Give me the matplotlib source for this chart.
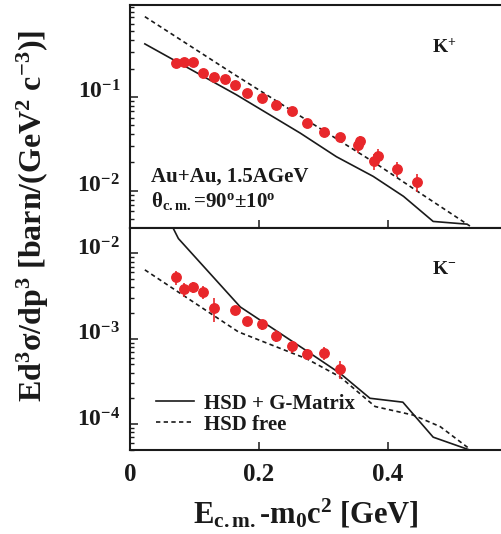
import numpy as np
import matplotlib
matplotlib.use("Agg")
import matplotlib.pyplot as plt
from matplotlib.ticker import FixedLocator, NullFormatter, LogLocator
from matplotlib.transforms import ScaledTranslation

plt.rcParams['font.family'] = ['Liberation Serif', 'DejaVu Serif']
plt.rcParams['font.weight'] = 'bold'
plt.rcParams['mathtext.fontset'] = 'custom'
plt.rcParams['mathtext.rm'] = 'Liberation Serif:bold'
plt.rcParams['mathtext.it'] = 'Liberation Serif:bold'
plt.rcParams['mathtext.bf'] = 'Liberation Serif:bold'
plt.rcParams['mathtext.sf'] = 'Liberation Serif'
plt.rcParams['mathtext.default'] = 'rm'

# ---------------- data: K+ (top panel) ----------------
kp_x = [0.071, 0.084, 0.098, 0.113, 0.130, 0.148, 0.162, 0.182, 0.204, 0.226,
        0.251, 0.275, 0.300, 0.326, 0.356, 0.353, 0.384, 0.378, 0.414, 0.445]
kp_y = [0.228, 0.234, 0.232, 0.179, 0.162, 0.155, 0.134, 0.109, 0.096, 0.0815,
        0.070, 0.0525, 0.042, 0.0375, 0.0335, 0.0304, 0.0235, 0.0205, 0.0171, 0.0124]
kp_err = [0.02, 0.02, 0.02, 0.015, 0.014, 0.013, 0.012, 0.009, 0.008, 0.007,
          0.006, 0.005, 0.004, 0.004, 0.005, 0.005, 0.004, 0.004, 0.003, 0.0028]

kp_gm_x = [0.023, 0.165, 0.264, 0.320, 0.377, 0.424, 0.470, 0.522]
kp_gm_y = [0.366, 0.105, 0.041, 0.023, 0.0142, 0.0087, 0.0047, 0.0044]

kp_free_x = [0.023, 0.160, 0.269, 0.380, 0.450, 0.527]
kp_free_y = [0.714, 0.176, 0.0593, 0.0197, 0.0094, 0.0042]

# ---------------- data: K- (bottom panel) ----------------
km_x = [0.072, 0.084, 0.098, 0.113, 0.130, 0.162, 0.182, 0.204, 0.227,
        0.251, 0.275, 0.300, 0.325]
km_y = [5.28e-3, 3.78e-3, 4.04e-3, 3.52e-3, 2.27e-3, 2.15e-3, 1.60e-3, 1.47e-3,
        1.08e-3, 8.1e-4, 6.6e-4, 6.8e-4, 4.4e-4]
km_err = [1.0e-3, 0.7e-3, 0.6e-3, 0.6e-3, 0.7e-3, 0.15e-3, 0.15e-3, 0.2e-3,
          0.17e-3, 0.14e-3, 0.1e-3, 0.12e-3, 0.1e-3]

km_gm_x = [0.060, 0.075, 0.171, 0.269, 0.326, 0.372, 0.423, 0.470, 0.525]
km_gm_y = [0.025, 0.0149, 2.35e-3, 7.6e-4, 3.9e-4, 2.0e-4, 1.8e-4, 7.0e-5, 5.0e-5]

km_free_x = [0.023, 0.168, 0.274, 0.326, 0.380, 0.439, 0.481, 0.525]
km_free_y = [6.4e-3, 1.2e-3, 5.8e-4, 3.55e-4, 1.6e-4, 1.27e-4, 9.3e-5, 5.2e-5]

x_ticks = [0.0, 0.2, 0.4]
x_ticklabels = ['0', '0.2', '0.4']
top_yticks = [1e-2, 1e-1]
top_yticklabels = [r'$10^{-2}$', r'$10^{-1}$']
bot_yticks = [1e-4, 1e-3, 1e-2]
bot_yticklabels = [r'$10^{-4}$', r'$10^{-3}$', r'$10^{-2}$']

legend_labels = ['HSD + G-Matrix', 'HSD free']

# ---------------- figure ----------------
fig = plt.figure(figsize=(5.02, 5.34), dpi=100)
ax_t = fig.add_axes([0.259, 0.573, 0.751, 0.4176])
ax_b = fig.add_axes([0.259, 0.1573, 0.751, 0.4157])

red = '#e8272b'
txt = '#1a1a1a'
dash = (0, (2.6, 2.0))

def style(ax, yt, ytl, ylim, showx):
    ax.set_yscale('log')
    ax.set_xlim(0, 0.5845)
    ax.set_ylim(*ylim)
    ax.xaxis.set_major_locator(FixedLocator(x_ticks))
    if showx:
        ax.set_xticklabels(x_ticklabels)
    else:
        ax.xaxis.set_major_formatter(NullFormatter())
    ax.yaxis.set_major_locator(FixedLocator(yt))
    ax.set_yticklabels(ytl)
    ax.yaxis.set_minor_locator(LogLocator(base=10, subs=np.arange(2, 10)))
    ax.yaxis.set_minor_formatter(NullFormatter())
    ax.tick_params(axis='both', which='major', direction='in', length=6, width=1.1,
                   colors=txt, top=False, right=False)
    ax.tick_params(axis='y', which='minor', direction='in', length=3, width=1.0,
                   colors=txt, right=False)
    ax.tick_params(axis='x', which='major', labelsize=18, pad=9)
    ax.tick_params(axis='y', which='major', labelsize=17, pad=7)
    for lab in ax.get_yticklabels():
        lab.set_transform(lab.get_transform() + ScaledTranslation(0, 0.07, fig.dpi_scale_trans))
    for s in ax.spines.values():
        s.set_linewidth(1.5)
        s.set_color(txt)

# top panel
style(ax_t, top_yticks, top_yticklabels, (4.0e-3, 0.95), False)
ax_t.plot(kp_gm_x, kp_gm_y, color=txt, lw=1.2)
ax_t.plot(kp_free_x, kp_free_y, color=txt, lw=1.2, linestyle=dash)
ax_t.errorbar(kp_x, kp_y, yerr=kp_err, fmt='o', color=red, ms=6.8, mec=red,
              elinewidth=1.2, capsize=0, zorder=5)
ax_t.text(0.801, 0.785, r'K$^{+}$', transform=ax_t.transAxes, fontsize=14,
          color=txt, ha='left', va='baseline')
ax_t.text(0.055, 0.208, 'Au+Au, 1.5AGeV', transform=ax_t.transAxes, fontsize=15,
          color=txt, ha='left', va='baseline')
ax_t.text(0.055, 0.095, r'$\mathsf{θ}_{c.m.}$=90$^{o}$±10$^{o}$', transform=ax_t.transAxes,
          fontsize=15, color=txt, ha='left', va='baseline')

# bottom panel
style(ax_b, bot_yticks, bot_yticklabels, (4.95e-5, 0.0198), True)
l1, = ax_b.plot(km_gm_x, km_gm_y, color=txt, lw=1.2)
l2, = ax_b.plot(km_free_x, km_free_y, color=txt, lw=1.2, linestyle=dash)
ax_b.errorbar(km_x, km_y, yerr=km_err, fmt='o', color=red, ms=6.8, mec=red,
              elinewidth=1.2, capsize=0, zorder=5)
ax_b.text(0.801, 0.793, r'K$^{-}$', transform=ax_b.transAxes, fontsize=14,
          color=txt, ha='left', va='baseline')
ax_b.legend([l1, l2], legend_labels, loc='lower left', bbox_to_anchor=(0.07, 0.069),
            frameon=False, fontsize=15, handlelength=1.8, handletextpad=0.5,
            labelspacing=0.05, borderpad=0, borderaxespad=0, labelcolor=txt)

fig.text(33 / 502, 1 - 216 / 534, r'Ed$^3$σ/dp$^3$ [barn/(GeV$^2$ c$^{-3}$)]',
         rotation=90, ha='center', va='center', fontsize=23, color=txt)
fig.text(306 / 502, 1 - 524 / 534, r'E$_{c.m.}$-m$_0$c$^2$ [GeV]',
         ha='center', va='baseline', fontsize=22, color=txt)

fig.savefig('out.png', dpi=100)
